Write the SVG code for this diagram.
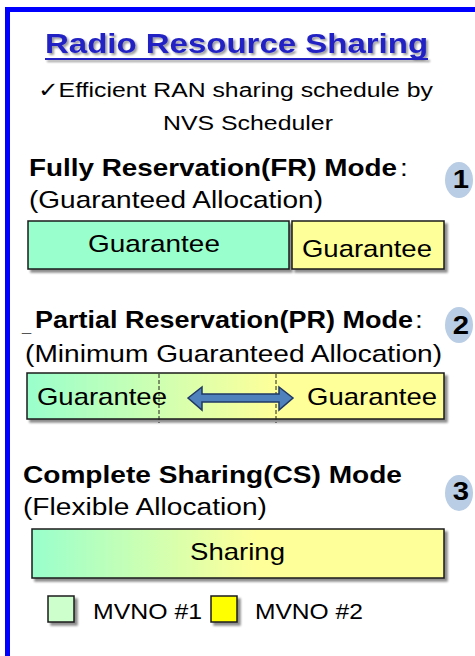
<svg xmlns="http://www.w3.org/2000/svg" width="475" height="656" viewBox="0 0 475 656">
<defs>
<style>
.t{font-family:"Liberation Sans",Arial,sans-serif;fill:#000}
.b{font-weight:bold}
.box{stroke:#1a1a1a;stroke-width:1.5}
.num{font-family:"Liberation Sans",Arial,sans-serif;font-weight:bold;font-size:25px;fill:#000;text-anchor:middle}
.badge{fill:#b9cde5}
</style>
<filter id="sh" x="-10%" y="-20%" width="130%" height="160%">
<feGaussianBlur in="SourceAlpha" stdDeviation="1.2"/>
<feOffset dx="3" dy="3" result="o"/>
<feComponentTransfer><feFuncA type="linear" slope="0.45"/></feComponentTransfer>
<feMerge><feMergeNode/><feMergeNode in="SourceGraphic"/></feMerge>
</filter>
<filter id="tsh" x="-5%" y="-20%" width="115%" height="150%">
<feGaussianBlur in="SourceAlpha" stdDeviation="0.8"/>
<feOffset dx="2" dy="2"/>
<feComponentTransfer><feFuncA type="linear" slope="0.4"/></feComponentTransfer>
<feMerge><feMergeNode/><feMergeNode in="SourceGraphic"/></feMerge>
</filter>
<linearGradient id="gPR" x1="0" y1="0" x2="1" y2="0">
<stop offset="0" stop-color="#99ffcc"/>
<stop offset="0.6" stop-color="#ffff99"/>
<stop offset="1" stop-color="#ffff99"/>
</linearGradient>
<linearGradient id="gCS" x1="0" y1="0" x2="1" y2="0">
<stop offset="0" stop-color="#99ffcc"/>
<stop offset="0.55" stop-color="#ffff99"/>
<stop offset="1" stop-color="#ffff99"/>
</linearGradient>
</defs>
<rect x="0" y="0" width="475" height="656" fill="#fff"/>
<rect x="7.5" y="9.5" width="490" height="700" fill="#fff" stroke="#0000ff" stroke-width="5"/>

<g id="title" filter="url(#tsh)">
<text x="38.46" y="53" class="t b" font-size="28" textLength="327.4" lengthAdjust="spacingAndGlyphs" transform="scale(1.17,1)" style="fill:#2222c4">Radio Resource Sharing</text>
<rect x="45" y="58" width="383" height="2" fill="#2222c4"/>
</g>

<g id="subtitle">
<text x="32.48" y="97" class="t" font-size="21" textLength="337.6" lengthAdjust="spacingAndGlyphs" transform="scale(1.17,1)">✓Efficient RAN sharing schedule by</text>
<text x="139.3" y="130" class="t" font-size="21" textLength="145.3" lengthAdjust="spacingAndGlyphs" transform="scale(1.17,1)">NVS Scheduler</text>
</g>

<g id="fr-mode">
<text x="24.79" y="176" class="t b" font-size="23.8" textLength="314.5" lengthAdjust="spacingAndGlyphs" transform="scale(1.17,1)">Fully Reservation(FR) Mode</text>
<text x="341.9" y="176" class="t" font-size="24" transform="scale(1.17,1)">:</text>
<text x="24.79" y="208" class="t" font-size="24" textLength="251.3" lengthAdjust="spacingAndGlyphs" transform="scale(1.17,1)">(Guaranteed Allocation)</text>
<rect x="28" y="221" width="261" height="48" fill="#99ffcc" class="box" filter="url(#sh)"/>
<rect x="292" y="221" width="152" height="48" fill="#ffff99" class="box" filter="url(#sh)"/>
<text x="75.2" y="252" class="t" font-size="24" textLength="112.8" lengthAdjust="spacingAndGlyphs" transform="scale(1.17,1)">Guarantee</text>
<text x="258.1" y="257" class="t" font-size="24" textLength="111.1" lengthAdjust="spacingAndGlyphs" transform="scale(1.17,1)">Guarantee</text>
</g>
<g id="badge1">
<ellipse cx="459" cy="180" rx="14" ry="18" class="badge"/>
<text x="394" y="188" class="num" transform="scale(1.17,1)">1</text>
</g>

<g id="pr-mode">
<text x="18.8" y="331" class="t" font-size="14" style="fill:#555" transform="scale(1.17,1)">_</text>
<text x="29.9" y="328" class="t b" font-size="23.2" textLength="323.1" lengthAdjust="spacingAndGlyphs" transform="scale(1.17,1)">Partial Reservation(PR) Mode</text>
<text x="354.7" y="328" class="t" font-size="24" transform="scale(1.17,1)">:</text>
<text x="21.4" y="362" class="t" font-size="24" textLength="356.4" lengthAdjust="spacingAndGlyphs" transform="scale(1.17,1)">(Minimum Guaranteed Allocation)</text>
<rect x="27" y="373" width="417" height="46" fill="url(#gPR)" class="box" filter="url(#sh)"/>
<line x1="159" y1="374" x2="159" y2="423" stroke="#222" stroke-width="1" stroke-dasharray="4,2"/>
<line x1="276" y1="374" x2="276" y2="423" stroke="#222" stroke-width="1" stroke-dasharray="4,2"/>
<text x="31.6" y="405" class="t" font-size="24" textLength="111.1" lengthAdjust="spacingAndGlyphs" transform="scale(1.17,1)">Guarantee</text>
<text x="262.4" y="405" class="t" font-size="24" textLength="111.1" lengthAdjust="spacingAndGlyphs" transform="scale(1.17,1)">Guarantee</text>
<polygon points="188,398 202,387 202,394 279,394 279,387 293,398 279,410 279,402 202,402 202,410" fill="#4f81bd" stroke="#1f3864" stroke-width="1.5" stroke-linejoin="miter"/>
</g>
<g id="badge2">
<ellipse cx="459" cy="325" rx="14" ry="18" class="badge"/>
<text x="394" y="334" class="num" transform="scale(1.17,1)">2</text>
</g>

<g id="cs-mode">
<text x="19.66" y="483" class="t b" font-size="24" textLength="323.9" lengthAdjust="spacingAndGlyphs" transform="scale(1.17,1)">Complete Sharing(CS) Mode</text>
<text x="19.66" y="515" class="t" font-size="24" textLength="208.5" lengthAdjust="spacingAndGlyphs" transform="scale(1.17,1)">(Flexible Allocation)</text>
<rect x="32" y="529" width="412" height="49" fill="url(#gCS)" class="box" filter="url(#sh)"/>
<text x="162.4" y="560" class="t" font-size="23.6" textLength="81.2" lengthAdjust="spacingAndGlyphs" transform="scale(1.17,1)">Sharing</text>
</g>
<g id="badge3">
<ellipse cx="459" cy="493" rx="14" ry="18" class="badge"/>
<text x="394" y="500" class="num" transform="scale(1.17,1)">3</text>
</g>

<g id="legend">
<rect x="48" y="596" width="26" height="26" fill="#ccffcc" class="box" filter="url(#sh)"/>
<text x="79.5" y="619" class="t" font-size="21.2" textLength="93.2" lengthAdjust="spacingAndGlyphs" transform="scale(1.17,1)">MVNO #1</text>
<rect x="211" y="596" width="26" height="26" fill="#ffff00" class="box" filter="url(#sh)"/>
<text x="217.9" y="619" class="t" font-size="21.2" textLength="92.3" lengthAdjust="spacingAndGlyphs" transform="scale(1.17,1)">MVNO #2</text>
</g>
<g id="connectors"></g>
</svg>
